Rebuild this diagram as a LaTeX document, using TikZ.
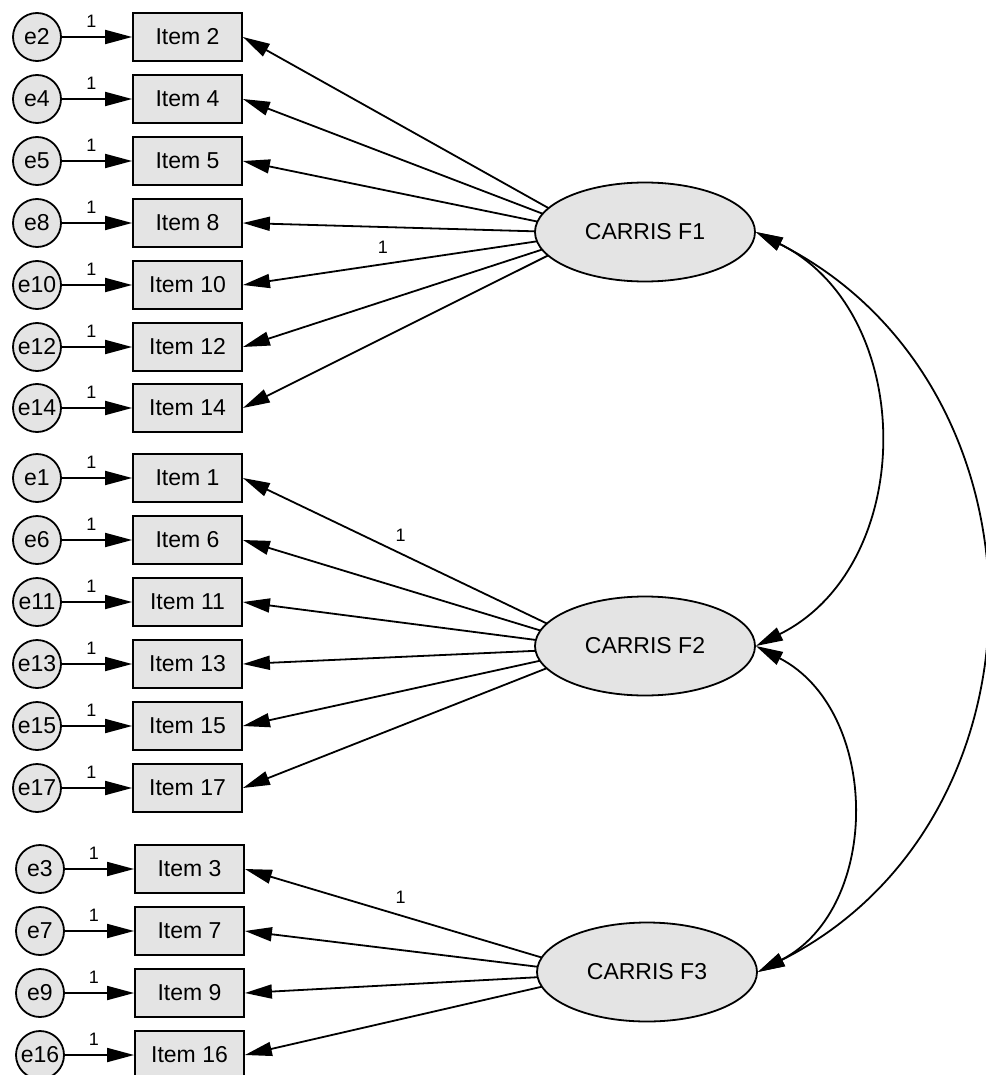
\documentclass[tikz,border=0pt]{standalone}
\usepackage{fontspec}
\setmainfont{Liberation Sans}
\usepackage{tikz}
\usetikzlibrary{shapes}
\usetikzlibrary{positioning}
\usetikzlibrary{arrows.meta}
\definecolor{boxgray}{RGB}{228,228,228}
\tikzset{
    errnode/.style = {circle, line width=1.8pt, draw=black, fill=boxgray, minimum size=48pt, inner sep=0pt, font=\fontsize{23}{23}\selectfont},
    itemnode/.style = {rectangle, line width=1.8pt, draw=black, fill=boxgray, minimum width=109pt, minimum height=48pt, inner sep=0pt, font=\fontsize{23}{23}\selectfont},
    factnode/.style = {ellipse, line width=1.8pt, draw=black, fill=boxgray, minimum width=220pt, minimum height=99pt, inner sep=0pt, font=\fontsize{23}{23}\selectfont},
    edgen/.style = {-{Triangle[length=27pt,width=14pt]}, line width=1.8pt},
    edgec/.style = {{Triangle[length=27pt,width=14pt]}-{Triangle[length=27pt,width=14pt]}, line width=1.8pt},
    lab/.style = {inner sep=1pt, font=\fontsize{18}{18}\selectfont}
}

\begin{document}
\begin{tikzpicture}[x=1pt, y=1pt]
\useasboundingbox (0,0) rectangle (985,-1075);
% items of F1
\node[itemnode] at (187.5, -37) (i2) {Item 2};
\node[itemnode] at (187.5, -99) (i4) {Item 4};
\node[itemnode] at (187.5, -161) (i5) {Item 5};
\node[itemnode] at (187.5, -223) (i8) {Item 8};
\node[itemnode] at (187.5, -285) (i10) {Item 10};
\node[itemnode] at (187.5, -347) (i12) {Item 12};
\node[itemnode] at (187.5, -408) (i14) {Item 14};
% items of F2
\node[itemnode] at (187.5, -478) (i1) {Item 1};
\node[itemnode] at (187.5, -540) (i6) {Item 6};
\node[itemnode] at (187.5, -602) (i11) {Item 11};
\node[itemnode] at (187.5, -664) (i13) {Item 13};
\node[itemnode] at (187.5, -726) (i15) {Item 15};
\node[itemnode] at (187.5, -788) (i17) {Item 17};
% items of F3
\node[itemnode] at (189.5, -869) (i3) {Item 3};
\node[itemnode] at (189.5, -931) (i7) {Item 7};
\node[itemnode] at (189.5, -993) (i9) {Item 9};
\node[itemnode] at (189.5, -1055) (i16) {Item 16};
%
\node[errnode] at (37, -37) (e2) {e2};
\node[errnode] at (37, -99) (e4) {e4};
\node[errnode] at (37, -161) (e5) {e5};
\node[errnode] at (37, -223) (e8) {e8};
\node[errnode] at (37, -285) (e10) {e10};
\node[errnode] at (37, -347) (e12) {e12};
\node[errnode] at (37, -408) (e14) {e14};
\node[errnode] at (37, -478) (e1) {e1};
\node[errnode] at (37, -540) (e6) {e6};
\node[errnode] at (37, -602) (e11) {e11};
\node[errnode] at (37, -664) (e13) {e13};
\node[errnode] at (37, -726) (e15) {e15};
\node[errnode] at (37, -788) (e17) {e17};
\node[errnode] at (40, -869) (e3) {e3};
\node[errnode] at (40, -931) (e7) {e7};
\node[errnode] at (40, -993) (e9) {e9};
\node[errnode] at (40, -1055) (e16) {e16};
%
\draw[edgen] (e2) edge node[lab, pos=0.42, above=8pt] {1} (i2);
\draw[edgen] (e4) edge node[lab, pos=0.42, above=8pt] {1} (i4);
\draw[edgen] (e5) edge node[lab, pos=0.42, above=8pt] {1} (i5);
\draw[edgen] (e8) edge node[lab, pos=0.42, above=8pt] {1} (i8);
\draw[edgen] (e10) edge node[lab, pos=0.42, above=8pt] {1} (i10);
\draw[edgen] (e12) edge node[lab, pos=0.42, above=8pt] {1} (i12);
\draw[edgen] (e14) edge node[lab, pos=0.42, above=8pt] {1} (i14);
\draw[edgen] (e1) edge node[lab, pos=0.42, above=8pt] {1} (i1);
\draw[edgen] (e6) edge node[lab, pos=0.42, above=8pt] {1} (i6);
\draw[edgen] (e11) edge node[lab, pos=0.42, above=8pt] {1} (i11);
\draw[edgen] (e13) edge node[lab, pos=0.42, above=8pt] {1} (i13);
\draw[edgen] (e15) edge node[lab, pos=0.42, above=8pt] {1} (i15);
\draw[edgen] (e17) edge node[lab, pos=0.42, above=8pt] {1} (i17);
\draw[edgen] (e3) edge node[lab, pos=0.42, above=8pt] {1} (i3);
\draw[edgen] (e7) edge node[lab, pos=0.42, above=8pt] {1} (i7);
\draw[edgen] (e9) edge node[lab, pos=0.42, above=8pt] {1} (i9);
\draw[edgen] (e16) edge node[lab, pos=0.42, above=8pt] {1} (i16);
% loadings, hidden under the factors
\coordinate (c1) at (593, -233);
\coordinate (c2) at (598, -648);
\coordinate (c3) at (597, -974);
\draw[edgen] (c1) edge (i2.east);
\draw[edgen] (c1) edge (i4.east);
\draw[edgen] (c1) edge (i5.east);
\draw[edgen] (c1) edge (i8.east);
\draw[edgen] (c1) edge node[lab, pos=0.6, above=9pt] {1} (i10.east);
\draw[edgen] (c1) edge (i12.east);
\draw[edgen] (c1) edge (i14.east);
\draw[edgen] (c2) edge node[lab, pos=0.556, above=10pt] {1} (i1.east);
\draw[edgen] (c2) edge (i6.east);
\draw[edgen] (c2) edge (i11.east);
\draw[edgen] (c2) edge (i13.east);
\draw[edgen] (c2) edge (i15.east);
\draw[edgen] (c2) edge (i17.east);
\draw[edgen] (c3) edge node[lab, pos=0.558, above=10pt] {1} (i3.east);
\draw[edgen] (c3) edge (i7.east);
\draw[edgen] (c3) edge (i9.east);
\draw[edgen] (c3) edge (i16.east);
%
\node[factnode] at (645, -232) (F1) {CARRIS F1};
\node[factnode] at (645, -646) (F2) {CARRIS F2};
\node[factnode] at (647, -972) (F3) {CARRIS F3};
% covariances
\draw[edgec] (F1.east) .. controls +(-26.5:181) and +(26.5:181) .. (F2.east);
\draw[edgec] (F2.east) .. controls +(-27.3:140) and +(27.3:140) .. (F3.east);
\draw[edgec] (F1.east) .. controls +(-26.8:338) and +(26.8:338) .. (F3.east);

\end{tikzpicture}
\end{document}
